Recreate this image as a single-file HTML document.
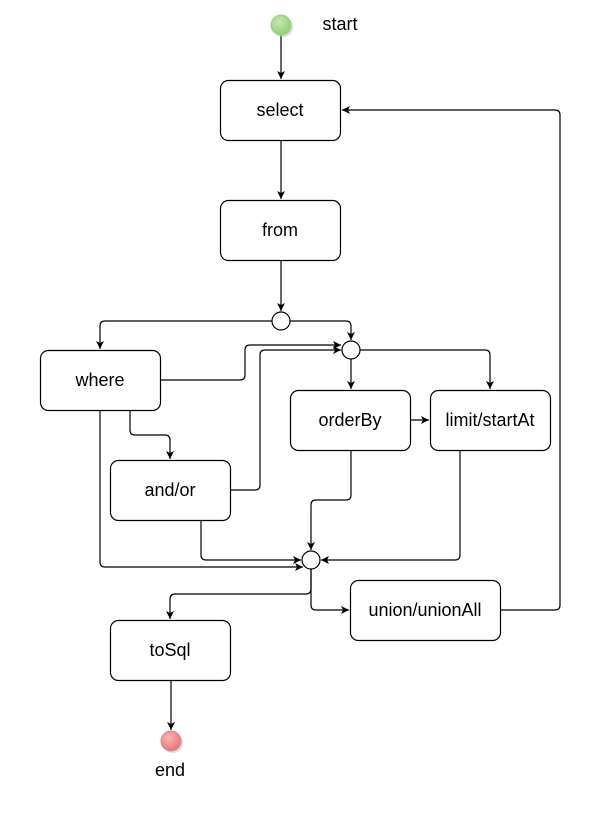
<!DOCTYPE html>
<html><head><meta charset="utf-8"><style>
html,body{margin:0;padding:0;background:#fff;}
svg{display:block;}
text{font-family:"Liberation Sans",sans-serif;font-size:18px;fill:#000;}
</style></head><body>
<svg width="602" height="814" viewBox="0 0 602 814" xmlns="http://www.w3.org/2000/svg">
<defs>
<marker id="a" markerWidth="10" markerHeight="10" refX="8" refY="4" orient="auto" markerUnits="userSpaceOnUse">
<path d="M0,0 L8,4 L0,8 L2,4 Z" fill="#000"/>
</marker>
<radialGradient id="g" cx="40%" cy="35%" r="70%"><stop offset="0" stop-color="#c5e6b3"/><stop offset="1" stop-color="#8fce74"/></radialGradient>
<radialGradient id="r" cx="40%" cy="35%" r="70%"><stop offset="0" stop-color="#f8b5b5"/><stop offset="1" stop-color="#e97070"/></radialGradient>
</defs>
<g fill="none" stroke="#000" stroke-width="1.2">
<rect x="220.5" y="80.5" width="120" height="60" rx="8"/>
<rect x="220.5" y="200.5" width="120" height="60" rx="8"/>
<rect x="40.5" y="350.5" width="120" height="60" rx="8"/>
<rect x="110.5" y="460.5" width="120" height="60" rx="8"/>
<rect x="290.5" y="390.5" width="120" height="60" rx="8"/>
<rect x="430.5" y="390.5" width="120" height="60" rx="8"/>
<rect x="350.5" y="580.5" width="150" height="60" rx="8"/>
<rect x="110.5" y="620.5" width="120" height="60" rx="8"/>
<circle cx="281" cy="321" r="9"/>
<circle cx="351" cy="350" r="9"/>
<circle cx="311" cy="560" r="9"/>
<path d="M281,35 V79" marker-end="url(#a)"/>
<path d="M281,140 V199" marker-end="url(#a)"/>
<path d="M281,260 V311" marker-end="url(#a)"/>
<path d="M272,321 H105 Q100,321 100,326 V349" marker-end="url(#a)"/>
<path d="M290,321 H346 Q351,321 351,326 V340" marker-end="url(#a)"/>
<path d="M160,380 H240 Q245,380 245,375 V350 Q245,345 250,345 H341" marker-end="url(#a)"/>
<path d="M230,490 H255 Q260,490 260,485 V355 Q260,350 265,350 H341" marker-end="url(#a)"/>
<path d="M360,350 H485 Q490,350 490,355 V389" marker-end="url(#a)"/>
<path d="M351,359 V389" marker-end="url(#a)"/>
<path d="M410,420 H429" marker-end="url(#a)"/>
<path d="M130,410 V430 Q130,435 135,435 H165 Q170,435 170,440 V459" marker-end="url(#a)"/>
<path d="M100,410 V562 Q100,567 105,567 H303" marker-end="url(#a)"/>
<path d="M201,520 V555 Q201,560 206,560 H301" marker-end="url(#a)"/>
<path d="M351,450 V495 Q351,500 346,500 H316 Q311,500 311,505 V550" marker-end="url(#a)"/>
<path d="M460,450 V555 Q460,560 455,560 H321" marker-end="url(#a)"/>
<path d="M311,569 V605 Q311,610 316,610 H349" marker-end="url(#a)"/>
<path d="M311,569 V589 Q311,594 306,594 H175 Q170,594 170,599 V619" marker-end="url(#a)"/>
<path d="M500,610 H555 Q560,610 560,605 V115 Q560,110 555,110 H342" marker-end="url(#a)"/>
<path d="M171,680 V730" marker-end="url(#a)"/>
</g>
<circle cx="283" cy="27" r="10" fill="#bbb" opacity="0.5"/>
<circle cx="281" cy="25" r="10" fill="url(#g)" stroke="#9ccc85" stroke-width="1"/>
<circle cx="173" cy="743" r="10" fill="#bbb" opacity="0.5"/>
<circle cx="171" cy="741" r="10" fill="url(#r)" stroke="#d88" stroke-width="1"/>
<g text-anchor="middle">
<text x="280" y="116">select</text>
<text x="280" y="236">from</text>
<text x="100" y="386">where</text>
<text x="170" y="496">and/or</text>
<text x="350" y="426">orderBy</text>
<text x="490" y="426">limit/startAt</text>
<text x="425" y="616">union/unionAll</text>
<text x="170" y="656">toSql</text>
<text x="340" y="30">start</text>
<text x="170" y="776">end</text>
</g>
</svg>
</body></html>
